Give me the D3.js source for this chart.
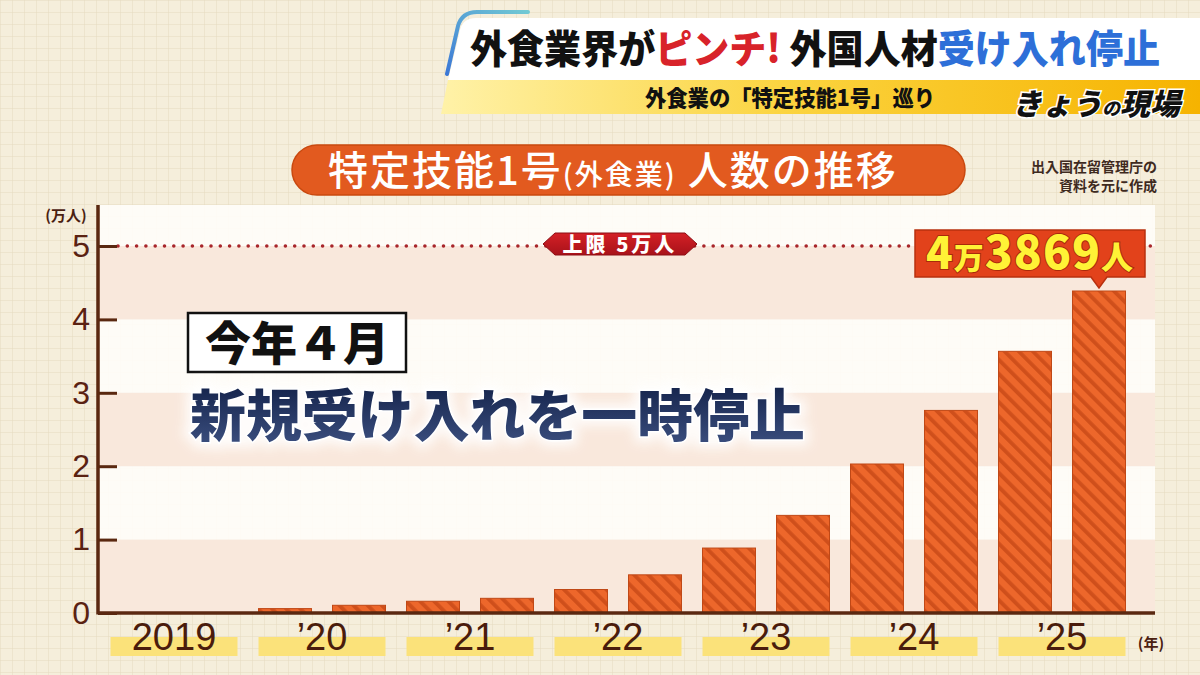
<!DOCTYPE html>
<html><head><meta charset="utf-8">
<script src="https://cdn.jsdelivr.net/npm/d3@7"></script>
<style>body{margin:0;background:#f5eedb;} svg{display:block}</style>
</head><body>
<svg id="c" width="1200" height="675"></svg>
<script>
// ---- data ----
const categories = ["2019上","2019下","2020上","2020下","2021上","2021下","2022上","2022下","2023上","2023下","2024上","2024下","2025上","2025下"];
const values = [0, 0.005, 0.06, 0.105, 0.16, 0.20, 0.32, 0.52, 0.885, 1.33, 2.03, 2.76, 3.565, 4.3869];
const years = ["2019","’20","’21","’22","’23","’24","’25"];
const yTicks = [0,1,2,3,4,5];
const capValue = 5;
const capLabel = "上限 5万人";
const latestParts = [["4",44],["万",30],["3869",46],["人",32]];
const headTitle = [["外食業界が","#111"],["ピンチ!","#d8232a"],[" 外国人材","#111"],["受け入れ停止","#2d6fd8"]];
const headSub = "外食業の「特定技能1号」巡り";
const chartTitle = [["特定技能1号",40],["(外食業)",28],[" 人数の推移",40]];
const sourceNote = ["出入国在留管理庁の","資料を元に作成"];
const noteLine1 = "今年４月";
const noteLine2 = "新規受け入れを一時停止";

const JP = "'Noto Sans CJK JP','Noto Sans CJK SC',sans-serif";
const svg = d3.select("#c");
const defs = svg.append("defs");

// grid background
const gp = defs.append("pattern").attr("id","grid").attr("width",12).attr("height",12).attr("patternUnits","userSpaceOnUse");
gp.append("rect").attr("width",12).attr("height",12).attr("fill","#f5eedb");
gp.append("path").attr("d","M12 0 L0 0 0 12").attr("fill","none").attr("stroke","#e5dbbf").attr("stroke-width",1);
// hatch
const hp = defs.append("pattern").attr("id","hatch").attr("width",10).attr("height",10).attr("patternUnits","userSpaceOnUse").attr("patternTransform","rotate(-45)");
hp.append("rect").attr("width",10).attr("height",10).attr("fill","#ed672b");
hp.append("rect").attr("width",3.8).attr("height",10).attr("fill","#cf4f1b");
// gradients
const g1 = defs.append("linearGradient").attr("id","ygrad");
g1.append("stop").attr("offset","0").attr("stop-color","#fff2a8");
g1.append("stop").attr("offset","0.45").attr("stop-color","#fbd440");
g1.append("stop").attr("offset","1").attr("stop-color","#f6b300");
const g2 = defs.append("linearGradient").attr("id","navy").attr("x1",0).attr("y1",0).attr("x2",0).attr("y2",1);
g2.append("stop").attr("offset","0").attr("stop-color","#0c1a40");
g2.append("stop").attr("offset","1").attr("stop-color","#3f5384");
const g3 = defs.append("linearGradient").attr("id","teal").attr("x1",0).attr("y1",1).attr("x2",1).attr("y2",0);
g3.append("stop").attr("offset","0").attr("stop-color","#3b78d6");
g3.append("stop").attr("offset","1").attr("stop-color","#72c9d4");
const g4 = defs.append("linearGradient").attr("id","badge").attr("x1",0).attr("y1",0).attr("x2",0).attr("y2",1);
g4.append("stop").attr("offset","0").attr("stop-color","#d42026");
g4.append("stop").attr("offset","1").attr("stop-color","#a8121a");
defs.append("filter").attr("id","blur").append("feGaussianBlur").attr("stdDeviation",6);

svg.append("rect").attr("width",1200).attr("height",675).attr("fill","url(#grid)");

// ---- header ----
svg.append("path").attr("d","M448,80 L460,30 Q463,18 476,18 L1200,18 L1200,80 Z").attr("fill","#ffffff");
svg.append("path").attr("d","M447,74 L458,26 Q462,12 477,12 L528,12").attr("fill","none").attr("stroke","url(#teal)").attr("stroke-width",4).attr("stroke-linecap","round");
svg.append("path").attr("d","M448,80 L1200,80 L1200,114 L441,114 Z").attr("fill","url(#ygrad)");
const ht = svg.append("text").attr("x",470).attr("y",63).attr("font-family",JP).attr("font-weight",900).attr("font-size",39)
  .attr("textLength",690).attr("lengthAdjust","spacingAndGlyphs");
headTitle.forEach(([t,c])=>ht.append("tspan").attr("fill",c).text(t));
svg.append("text").attr("x",645).attr("y",106).attr("font-family",JP).attr("font-weight",900).attr("font-size",22).attr("fill","#111")
  .attr("textLength",290).attr("lengthAdjust","spacingAndGlyphs").text(headSub);
const logo = svg.append("text").attr("transform","translate(1012,115) skewX(-14)").attr("font-family",JP).attr("font-weight",900)
  .attr("fill","#111").attr("stroke","#fff").attr("stroke-width",3).attr("paint-order","stroke").attr("font-size",30);
logo.append("tspan").text("きょう");
logo.append("tspan").attr("font-size",18).text("の");
logo.append("tspan").text("現場");

// ---- chart title pill ----
svg.append("rect").attr("x",292).attr("y",145).attr("width",673).attr("height",50).attr("rx",25)
  .attr("fill","#e25a1f").attr("stroke","#c9490f").attr("stroke-width",1.5);
const ct = svg.append("text").attr("x",328).attr("y",185).attr("font-family",JP).attr("font-weight",500).attr("fill","#fff").attr("letter-spacing",2);
chartTitle.forEach(([t,s])=>ct.append("tspan").attr("font-size",s).text(t));
sourceNote.forEach((t,i)=>svg.append("text").attr("x",1157).attr("y",172+i*19).attr("text-anchor","end")
  .attr("font-family",JP).attr("font-weight",700).attr("font-size",14).attr("fill","#3e2a1e").text(t));

// ---- scales ----
const x = d3.scaleBand().domain(categories).range([100,1136]).paddingInner(0.284).paddingOuter(0.142);
const xy = d3.scaleBand().domain(years).range([100,1136]).paddingInner(0.142).paddingOuter(0.071);
const y = d3.scaleLinear().domain([0,5]).range([613,246]);
const panelL = 98, panelR = 1155, panelT = 205;

// panel + bands
svg.append("rect").attr("x",panelL).attr("y",panelT).attr("width",panelR-panelL).attr("height",y(0)-panelT).attr("fill","#fffdf9").attr("opacity",0.9);
svg.append("g").selectAll("rect").data(d3.range(0,5,2)).join("rect")
  .attr("x",panelL).attr("width",panelR-panelL).attr("y",d=>y(d+1)).attr("height",d=>y(d)-y(d+1))
  .attr("fill","#f8e4d7").attr("opacity",0.85);

// cap dotted line
svg.append("line").attr("x1",118).attr("x2",panelR).attr("y1",y(capValue)).attr("y2",y(capValue))
  .attr("stroke","#a8262a").attr("stroke-width",3.6).attr("stroke-linecap","round").attr("stroke-dasharray","0 9.3");
const bx = 620, by = y(capValue)-2;
svg.append("path").attr("d",`M${bx-77},${by} L${bx-65},${by-11} L${bx+65},${by-11} L${bx+77},${by} L${bx+65},${by+11} L${bx-65},${by+11} Z`)
  .attr("fill","url(#badge)").attr("stroke","#8d0f14").attr("stroke-width",1);
svg.append("text").attr("x",bx).attr("y",by+7.5).attr("text-anchor","middle").attr("font-family",JP).attr("font-weight",900)
  .attr("font-size",20).attr("fill","#fff").attr("letter-spacing",3).text(capLabel);

// bars
svg.append("g").selectAll("rect").data(values).join("rect")
  .attr("x",(d,i)=>x(categories[i])).attr("width",x.bandwidth())
  .attr("y",d=>y(d)).attr("height",d=>y(0)-y(d))
  .attr("fill","url(#hatch)").attr("stroke","#c04816").attr("stroke-width",d=>d>0.02?1:0);

// axes
const yAxis = svg.append("g").attr("transform",`translate(${panelL},0)`)
  .call(d3.axisLeft(y).tickValues(yTicks).tickSizeInner(-19).tickSizeOuter(0).tickPadding(8).tickFormat(d3.format("d")));
yAxis.select(".domain").remove();
yAxis.selectAll("line").attr("stroke","#5a2810").attr("stroke-width",3);
yAxis.selectAll("text").attr("font-family","'Liberation Sans',Arial,sans-serif").attr("font-size",32).attr("fill","#5a2212");
svg.append("line").attr("x1",panelL).attr("x2",panelL).attr("y1",panelT).attr("y2",y(0)+1.5).attr("stroke","#5a2810").attr("stroke-width",3.5);
svg.append("line").attr("x1",panelL).attr("x2",panelR).attr("y1",y(0)).attr("y2",y(0)).attr("stroke","#5a2810").attr("stroke-width",3.5);
svg.append("text").attr("x",66).attr("y",221).attr("text-anchor","middle").attr("font-family",JP).attr("font-weight",700)
  .attr("font-size",15).attr("fill","#4a2010").text("(万人)");

// x labels with yellow strips
svg.append("g").selectAll("rect").data(years).join("rect")
  .attr("x",d=>xy(d)).attr("width",xy.bandwidth()).attr("y",637).attr("height",19).attr("fill","#fbe27a");
const xAxis = svg.append("g").attr("transform","translate(0,620)").call(d3.axisBottom(xy).tickSize(0).tickPadding(0));
xAxis.select(".domain").remove();
xAxis.selectAll("text").attr("dy",0).attr("y",30).attr("font-family","'Liberation Sans Narrow','Liberation Sans',Arial,sans-serif")
  .attr("font-size",38).attr("fill","#4a1c0c");
svg.append("text").attr("x",1151).attr("y",649).attr("text-anchor","middle").attr("font-family",JP).attr("font-weight",700)
  .attr("font-size",15).attr("fill","#4a2010").text("(年)");

// annotation
svg.append("rect").attr("x",188).attr("y",313).attr("width",218).attr("height",59).attr("fill","#fff").attr("stroke","#111").attr("stroke-width",2.5);
svg.append("text").attr("x",297).attr("y",360).attr("text-anchor","middle").attr("font-family",JP).attr("font-weight",900)
  .attr("font-size",46).attr("fill","#111").text(noteLine1);
svg.append("text").attr("x",190).attr("y",436).attr("font-family",JP).attr("font-weight",900).attr("font-size",56)
  .attr("textLength",615).attr("lengthAdjust","spacingAndGlyphs").attr("fill","none").attr("stroke","#fff").attr("stroke-width",12)
  .attr("opacity",0.9).attr("filter","url(#blur)").text(noteLine2);
svg.append("text").attr("x",190).attr("y",436).attr("font-family",JP).attr("font-weight",900).attr("font-size",56)
  .attr("textLength",615).attr("lengthAdjust","spacingAndGlyphs").attr("fill","url(#navy)")
  .attr("stroke","#fff").attr("stroke-width",3).attr("paint-order","stroke").text(noteLine2);

// latest value label
const last = categories[categories.length-1];
const px = x(last)+x.bandwidth()/2, pyTop = y(values[values.length-1]);
const boxR = px+46, boxL = boxR-230, boxB = pyTop-14, boxT = boxB-47;
svg.append("path").attr("d",`M${boxL},${boxT} H${boxR} V${boxB} H${px+8} L${px},${pyTop-3} L${px-8},${boxB} H${boxL} Z`)
  .attr("fill","#e2421b").attr("stroke","#b8300f").attr("stroke-width",1.5);
const lt = svg.append("text").attr("x",(boxL+boxR)/2).attr("y",boxB-8).attr("text-anchor","middle").attr("font-family",JP).attr("font-weight",900)
  .attr("fill","#fff236").attr("stroke","#a82a0a").attr("stroke-width",2).attr("paint-order","stroke").attr("letter-spacing",1);
latestParts.forEach(([t,s])=>lt.append("tspan").attr("font-size",s).text(t));
</script>
</body></html>
